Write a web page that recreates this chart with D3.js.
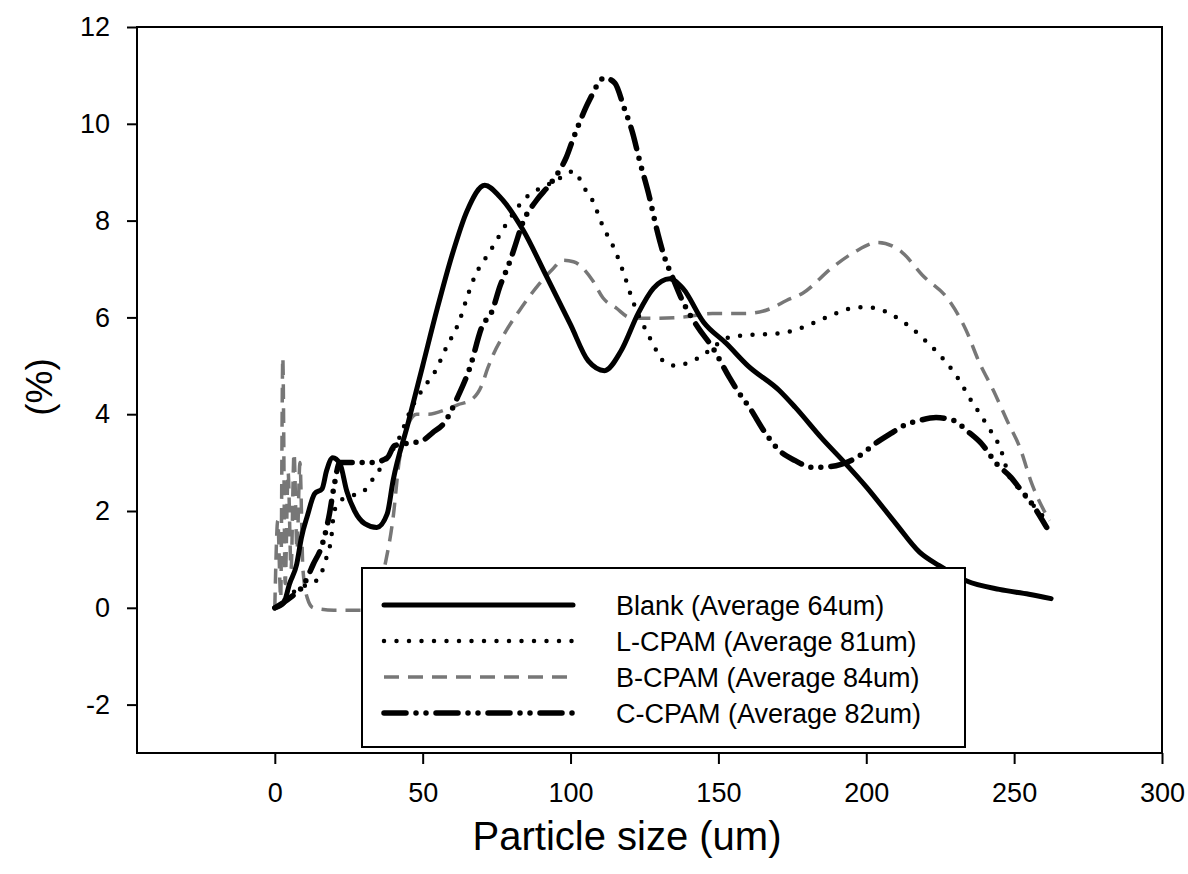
<!DOCTYPE html>
<html>
<head>
<meta charset="utf-8">
<script src="https://cdn.jsdelivr.net/npm/d3@7"></script>
<style>
body { margin: 0; background: #fff; }
text { font-family: "Liberation Sans", Arial, sans-serif; fill: #000; }
</style>
</head>
<body>
<svg id="chart"></svg>
<script>
// particle size (um) / percentage
var blankX = [0, 3, 5, 7.4, 9, 11, 13.5, 16, 17.5, 19.6, 22, 24.3, 27, 30.4, 34.5, 38, 40, 45, 50, 55, 60, 65, 71, 76, 84, 92, 100, 106, 111.5, 117, 123, 128, 133.5, 138, 145, 152.7, 160, 170.6, 176, 185, 193, 200, 210, 218, 224.7, 233.8, 245, 255, 262.5];
var blankY = [0, 0.1, 0.5, 0.9, 1.45, 1.9, 2.36, 2.46, 2.83, 3.1, 2.98, 2.42, 2.0, 1.74, 1.66, 1.94, 2.63, 3.8, 5.0, 6.2, 7.3, 8.2, 8.73, 8.5, 7.8, 6.83, 5.85, 5.1, 4.9, 5.3, 6.1, 6.6, 6.8, 6.6, 5.9, 5.46, 5.0, 4.49, 4.14, 3.5, 2.98, 2.5, 1.74, 1.15, 0.87, 0.56, 0.38, 0.28, 0.19];

var lcpamX = [0, 4, 8, 12, 15, 17, 19.2, 20, 22, 25, 29.5, 32.8, 37, 42, 46, 51.3, 54, 58, 62.5, 65.2, 68, 71, 73.6, 78.7, 85, 92, 97, 101, 104.7, 107.4, 110.8, 115, 118, 121, 126.7, 129, 131.8, 135.8, 140, 144.6, 149, 153.7, 159.5, 170.6, 178.4, 186.5, 195, 199.3, 203.4, 207.8, 215.5, 220, 224, 230.4, 235.5, 240.9, 245.6, 248.3, 251.7, 256, 262];
var lcpamY = [0, 0.2, 0.4, 0.5, 0.62, 0.95, 1.5, 1.97, 2.2, 2.3, 2.38, 2.63, 3.0, 3.5, 4.1, 4.63, 4.86, 5.38, 5.94, 6.45, 6.9, 7.2, 7.45, 7.97, 8.48, 8.73, 8.9, 9.02, 8.67, 8.42, 7.9, 7.39, 6.91, 6.35, 5.59, 5.32, 5.07, 5.0, 5.07, 5.21, 5.42, 5.59, 5.63, 5.67, 5.79, 6.0, 6.19, 6.21, 6.19, 6.08, 5.77, 5.52, 5.28, 4.8, 4.28, 3.77, 3.25, 2.72, 2.46, 2.15, 1.75];

var bcpamX = [0, 1, 2, 2.7, 3.5, 4.5, 5.5, 6.5, 7.5, 8.5, 9.5, 11, 13, 20, 30, 35, 37, 40, 42, 44, 48, 52, 58, 62, 66, 70, 72, 74, 77.7, 82.8, 89.5, 94, 97.3, 101, 107.4, 111, 115.5, 120, 125.7, 137, 148, 159, 168, 173, 178.5, 188.5, 196, 204, 212, 219, 228, 233.8, 238, 243, 247.6, 252, 256, 260.7, 262];
var bcpamY = [0, 1.8, 0.2, 5.17, 0.5, 2.8, 0.8, 3.2, 1.2, 3.0, 0.8, 0.2, 0.0, -0.05, -0.05, 0.2, 0.8, 1.86, 3.0, 3.6, 4.0, 4.0, 4.1, 4.2, 4.28, 4.6, 4.95, 5.25, 5.67, 6.15, 6.7, 7.0, 7.18, 7.15, 6.77, 6.4, 6.19, 6.0, 5.98, 6.0, 6.08, 6.08, 6.19, 6.35, 6.5, 7.03, 7.35, 7.55, 7.35, 6.87, 6.35, 5.73, 5.1, 4.49, 3.87, 3.3, 2.56, 1.94, 1.8];

var ccpamX = [0, 5, 10, 13, 16, 18.5, 20, 22, 27, 33, 38, 40.5, 45, 49.7, 53.4, 57.4, 61.8, 66, 70, 73.6, 76, 79.4, 81, 83.8, 88.5, 93, 96.3, 98.6, 100.7, 102.4, 106.4, 111.5, 115, 118, 121, 123.3, 126.7, 129, 131.8, 134.5, 137.8, 143, 148, 153.7, 156.4, 160.5, 166, 170.6, 176, 181.8, 188, 196.6, 203.4, 208.8, 212.8, 218, 223.6, 229.7, 234, 239, 244, 249, 251.7, 256, 261];
var ccpamY = [0, 0.2, 0.5, 0.9, 1.3, 1.95, 2.5, 3.0, 3.0, 3.0, 3.1, 3.35, 3.4, 3.45, 3.62, 3.83, 4.35, 4.97, 5.8, 6.15, 6.62, 7.14, 7.43, 7.95, 8.42, 8.75, 9.04, 9.31, 9.66, 9.93, 10.49, 10.95, 10.84, 10.35, 9.81, 9.25, 8.48, 7.86, 7.24, 6.83, 6.35, 5.8, 5.38, 4.76, 4.49, 4.14, 3.6, 3.25, 3.04, 2.9, 2.92, 3.1, 3.41, 3.62, 3.77, 3.87, 3.93, 3.87, 3.66, 3.39, 2.98, 2.69, 2.48, 2.15, 1.66];

var seriesNames = ['Blank (Average 64um)', 'L-CPAM (Average 81um)', 'B-CPAM (Average 84um)', 'C-CPAM (Average 82um)'];
var xTicks = [0, 50, 100, 150, 200, 250, 300];
var yTicks = [-2, 0, 2, 4, 6, 8, 10, 12];

var width = 1188, height = 874;
var plotLeft = 137, plotRight = 1162, plotTop = 27, plotBottom = 753;

var svg = d3.select('#chart').attr('width', width).attr('height', height);

var x = d3.scaleLinear().domain([-46.6, 300]).range([plotLeft, plotRight]);
var y = d3.scaleLinear().domain([-3, 12]).range([plotBottom, plotTop]);

function zip(xs, ys) {
    return xs.map(function (d, i) { return { x: d, y: ys[i] }; });
}

var styles = [
    { color: '#000', width: 5, dash: null, cap: 'round' },
    { color: '#000', width: 4.5, dash: '0,12.5', cap: 'round' },
    { color: '#777', width: 3.5, dash: '15,9', cap: 'butt' },
    { color: '#000', width: 5.5, dash: '22,10,0,10,0,10', cap: 'round' }
];

var series = [zip(blankX, blankY), zip(lcpamX, lcpamY), zip(bcpamX, bcpamY), zip(ccpamX, ccpamY)];

var line = d3.line()
    .x(function (d) { return x(d.x); })
    .y(function (d) { return y(d.y); })
    .curve(d3.curveMonotoneX);

// draw grey one first so black lines sit on top
[2, 1, 3, 0].forEach(function (i) {
    svg.append('path')
        .datum(series[i])
        .attr('d', line)
        .attr('fill', 'none')
        .attr('stroke', styles[i].color)
        .attr('stroke-width', styles[i].width)
        .attr('stroke-linecap', styles[i].cap)
        .attr('stroke-linejoin', 'round')
        .attr('stroke-dasharray', styles[i].dash);
});

// frame
svg.append('rect')
    .attr('x', plotLeft).attr('y', plotTop)
    .attr('width', plotRight - plotLeft).attr('height', plotBottom - plotTop)
    .attr('fill', 'none').attr('stroke', '#000').attr('stroke-width', 2);

var plainNum = function (d) { return String(d); };
var xAxis = d3.axisBottom(x).tickValues(xTicks).tickFormat(plainNum).tickSize(11).tickPadding(19);
var yAxis = d3.axisLeft(y).tickValues(yTicks).tickFormat(plainNum).tickSize(10).tickPadding(17);

var gx = svg.append('g').attr('transform', 'translate(0,' + plotBottom + ')').call(xAxis);
var gy = svg.append('g').attr('transform', 'translate(' + plotLeft + ',0)').call(yAxis);
[gx, gy].forEach(function (g) {
    g.select('.domain').remove();
    g.selectAll('.tick line').attr('stroke', '#000').attr('stroke-width', 2);
    g.selectAll('.tick text')
        .style('font-family', '"Liberation Sans", Arial, sans-serif')
        .style('font-size', '27px')
        .attr('fill', '#000');
});

svg.append('text')
    .attr('x', 627)
    .attr('y', 850)
    .attr('text-anchor', 'middle')
    .style('font-size', '40px')
    .text('Particle size (um)');

svg.append('text')
    .attr('transform', 'translate(52,387) rotate(-90)')
    .attr('text-anchor', 'middle')
    .style('font-size', '37px')
    .text('(%)');

// legend
var legend = svg.append('g');
legend.append('rect')
    .attr('x', 362).attr('y', 568)
    .attr('width', 603).attr('height', 179)
    .attr('fill', '#fff').attr('stroke', '#000').attr('stroke-width', 2);

seriesNames.forEach(function (name, i) {
    var ry = 605 + i * 36;
    legend.append('line')
        .attr('x1', 384).attr('x2', 573)
        .attr('y1', ry).attr('y2', ry)
        .attr('stroke', styles[i].color)
        .attr('stroke-width', styles[i].width)
        .attr('stroke-linecap', styles[i].cap)
        .attr('stroke-dasharray', styles[i].dash);
    legend.append('text')
        .attr('x', 616).attr('y', ry + 10)
        .style('font-size', '27px')
        .text(name);
});
</script>
</body>
</html>
